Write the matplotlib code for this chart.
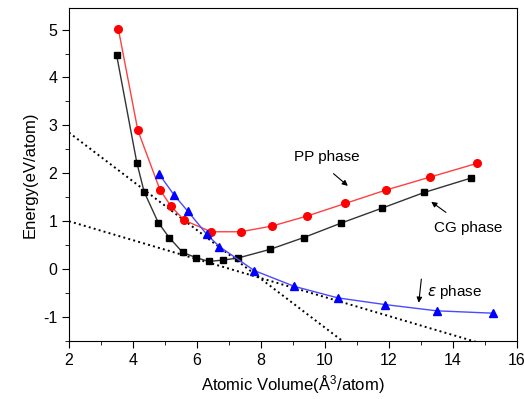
import matplotlib.pyplot as plt
import numpy as np

plt.rcParams['font.family'] = ['Liberation Sans', 'DejaVu Sans']
plt.rcParams['axes.unicode_minus'] = False

# CG phase (black squares)
cg_x = [3.49, 4.12, 4.35, 4.79, 5.13, 5.55, 5.97, 6.37, 6.82, 7.27, 8.27, 9.34, 10.5, 11.77, 13.1, 14.56]
cg_y = [4.46, 2.22, 1.61, 0.97, 0.66, 0.35, 0.24, 0.16, 0.19, 0.23, 0.41, 0.66, 0.96, 1.27, 1.60, 1.90]

# PP phase (red circles)
pp_x = [3.54, 4.15, 4.84, 5.19, 5.60, 6.44, 7.37, 8.35, 9.45, 10.63, 11.9, 13.28, 14.76]
pp_y = [5.02, 2.90, 1.66, 1.31, 1.02, 0.78, 0.78, 0.90, 1.11, 1.37, 1.65, 1.92, 2.21]

# epsilon phase (blue triangles)
ep_x = [4.81, 5.28, 5.71, 6.30, 6.70, 7.79, 9.04, 10.4, 11.88, 13.49, 15.26]
ep_y = [1.99, 1.55, 1.21, 0.73, 0.47, -0.03, -0.36, -0.60, -0.74, -0.87, -0.92]

# common tangent lines (dotted)
tan_x = [2, 16]
tan1_y = [2.85, 2.85 - 0.509 * 14]
tan2_y = [1.0, 1.0 - 0.198 * 14]

fig = plt.figure(figsize=(5.24, 3.99), dpi=100)
ax = fig.add_axes([69/524, 58/399, 448/524, 333/399])

ax.plot(tan_x, tan1_y, ':', color='black', lw=1.4)
ax.plot(tan_x, tan2_y, ':', color='black', lw=1.4)
ax.plot(cg_x, cg_y, '-s', color='#333333', mfc='black', mec='black', ms=5, lw=1)
ax.plot(pp_x, pp_y, '-o', color='#ff4040', mfc='red', mec='red', ms=5.5, lw=1)
ax.plot(ep_x, ep_y, '-^', color='#4a4aff', mfc='blue', mec='blue', ms=6, lw=1)

ax.set_xlim(2, 16)
ax.set_ylim(-1.5, 5.45)
ax.set_xticks(range(2, 17, 2))
ax.set_xticks(range(3, 16, 2), minor=True)
ax.set_yticks(range(-1, 6))
ax.set_yticks(np.arange(-1.5, 5.5, 1.0), minor=True)
ax.tick_params(which='major', direction='out', length=5, labelsize=11.5)
ax.tick_params(which='minor', direction='out', length=3)

ax.set_xlabel('Atomic Volume($\\mathregular{\\AA^3}$/atom)', fontsize=12)
ax.set_ylabel('Energy(eV/atom)', fontsize=12)

ax.text(10.05, 2.35, 'PP phase', fontsize=11, ha='center', va='center')
ax.annotate('', xy=(10.78, 1.70), xytext=(10.2, 2.03),
            arrowprops=dict(arrowstyle='-|>', color='black', lw=0.8, mutation_scale=8))
ax.text(14.47, 0.85, 'CG phase', fontsize=11, ha='center', va='center')
ax.annotate('', xy=(13.25, 1.44), xytext=(13.85, 1.15),
            arrowprops=dict(arrowstyle='-|>', color='black', lw=0.8, mutation_scale=8))
ax.text(13.2, -0.47, '$\\varepsilon$ phase', fontsize=11, ha='left', va='center')
ax.annotate('', xy=(12.92, -0.76), xytext=(13.02, -0.15),
            arrowprops=dict(arrowstyle='-|>', color='black', lw=0.8, mutation_scale=8))

fig.savefig('out.png', dpi=100)
